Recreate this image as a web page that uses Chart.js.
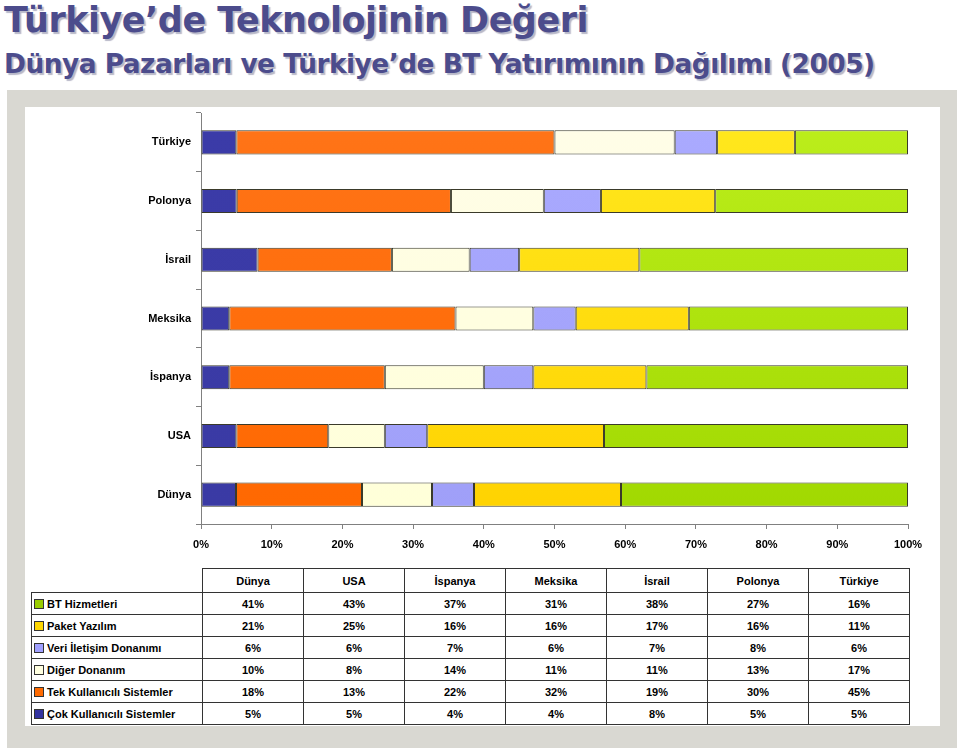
<!DOCTYPE html>
<html>
<head>
<meta charset="utf-8">
<script src="https://cdn.jsdelivr.net/npm/chart.js@4/dist/chart.umd.min.js"></script>
<style>
  body { margin: 0; background: #fff; width: 960px; height: 751px; overflow: hidden; position: relative; font-family: "Liberation Sans", Arial, sans-serif; }
  .t1, .t2 { position: absolute; left: 4px; font-family: "DejaVu Sans", Verdana, sans-serif; font-weight: bold; color: #4c4c8c; text-shadow: 2px 2px 1px #b8b8c8; white-space: nowrap; letter-spacing: -0.5px; }
  .t1 { top: 0px; font-size: 35px; }
  .t2 { top: 48px; font-size: 26.4px; }
  #frame { position: absolute; left: 7px; top: 90px; width: 950px; height: 658px; background: #d9d8d2; }
  #panel { position: absolute; left: 25px; top: 107px; width: 915px; height: 619px; background: #fff; }
  #wrap { position: absolute; left: 25px; top: 108px; width: 915px; height: 452px; }
  table { position: absolute; left: 31px; top: 568px; border-collapse: collapse; font-size: 11px; font-weight: bold; color: #000; }
  td { border: 1px solid #333; height: 21px; padding: 0; text-align: center; width: 100px; }
  tr.hd td { height: 23px; }
  td.lbl { width: 168px; text-align: left; padding-left: 2px; white-space: nowrap; }
  td.blank { border: none; }
  .sw { display: inline-block; width: 8px; height: 8px; border: 1px solid #333; margin-right: 3px; vertical-align: -1px; }
</style>
</head>
<body>
<div class="t1">Türkiye’de Teknolojinin Değeri</div>
<div class="t2">Dünya Pazarları ve Türkiye’de BT Yatırımının Dağılımı (2005)</div>
<div id="frame"></div>
<div id="panel"></div>
<div id="wrap"><canvas id="c"></canvas></div>
<table id="tbl"></table>
<script>
var countries = ['Dünya', 'USA', 'İspanya', 'Meksika', 'İsrail', 'Polonya', 'Türkiye'];
var seriesNames = ['Çok Kullanıcılı Sistemler', 'Tek Kullanıcılı Sistemler', 'Diğer Donanım', 'Veri İletişim Donanımı', 'Paket Yazılım', 'BT Hizmetleri'];
var cokKullanici = [5, 5, 4, 4, 8, 5, 5];
var tekKullanici = [18, 13, 22, 32, 19, 30, 45];
var digerDonanim = [10, 8, 14, 11, 11, 13, 17];
var veriIletisim = [6, 6, 7, 6, 7, 8, 6];
var paketYazilim = [21, 25, 16, 16, 17, 16, 11];
var btHizmetleri = [41, 43, 37, 31, 38, 27, 16];
var xTicks = [0, 10, 20, 30, 40, 50, 60, 70, 80, 90, 100];

var seriesValues = [cokKullanici, tekKullanici, digerDonanim, veriIletisim, paketYazilim, btHizmetleri];
// top colour (Türkiye row) and bottom colour (Dünya row)
var colorTop = ['#3b3ba8', '#ff7418', '#fffde8', '#aaaaff', '#ffe81e', '#bcee1c'];
var colorBot = ['#3a3aa4', '#ff6800', '#ffffd8', '#9f9ff8', '#ffd200', '#a0d800'];
var swatch = ['#3333a0', '#ff6a00', '#ffffe0', '#a0a0ff', '#ffd700', '#99cc00'];

// 100% stacked: each bar is shown as share of its own total (rounded table values)
var totals = countries.map(function(c, j) {
  return seriesValues.reduce(function(s, arr) { return s + arr[j]; }, 0);
});

function grad(i) {
  return function(ctx) {
    var area = ctx.chart.chartArea;
    if (!area) return colorBot[i];
    var g = ctx.chart.ctx.createLinearGradient(0, area.top, 0, area.bottom);
    g.addColorStop(0, colorTop[i]);
    g.addColorStop(1, colorBot[i]);
    return g;
  };
}

var datasets = seriesNames.map(function(name, i) {
  return {
    label: name,
    data: seriesValues[i].map(function(v, j) { return v / totals[j] * 100; }),
    backgroundColor: grad(i),
    borderColor: '#3a3a2a',
    borderWidth: 1,
    borderSkipped: false,
    categoryPercentage: 1,
    barPercentage: 0.41
  };
});

new Chart(document.getElementById('c'), {
  type: 'bar',
  data: { labels: countries, datasets: datasets },
  options: {
    indexAxis: 'y',
    responsive: true,
    maintainAspectRatio: false,
    animation: false,
    layout: { padding: { top: 5, right: 32, left: 0, bottom: 0 } },
    plugins: { legend: { display: false }, tooltip: { enabled: false } },
    scales: {
      x: {
        stacked: true,
        min: 0, max: 100,
        afterBuildTicks: function(s) { s.ticks = xTicks.map(function(v) { return { value: v }; }); },
        afterFit: function(s) { s.height = 36; s.paddingLeft = 0; s.paddingRight = 0; },
        border: { color: '#808080', width: 1 },
        grid: { drawOnChartArea: false, tickLength: 5, color: '#808080' },
        ticks: { padding: 9, color: '#000', font: { family: 'Liberation Sans', size: 11, weight: 'bold' },
          callback: function(v) { return v + '%'; } }
      },
      y: {
        stacked: true,
        reverse: true,
        afterFit: function(s) { s.width = 176; s.paddingTop = 0; s.paddingBottom = 0; },
        border: { color: '#808080', width: 1 },
        grid: { drawOnChartArea: false, tickLength: 5, color: '#808080', offset: true },
        ticks: { padding: 5, color: '#000', font: { family: 'Liberation Sans', size: 11, weight: 'bold' } }
      }
    }
  }
});

// data table under the chart
var tbl = document.getElementById('tbl');
var head = '<tr class="hd"><td class="blank lbl"></td>' + countries.map(function(c) { return '<td>' + c + '</td>'; }).join('') + '</tr>';
var rows = '';
for (var i = seriesNames.length - 1; i >= 0; i--) {
  rows += '<tr><td class="lbl"><span class="sw" style="background:' + swatch[i] + '"></span>' + seriesNames[i] + '</td>' +
    seriesValues[i].map(function(v) { return '<td>' + v + '%</td>'; }).join('') + '</tr>';
}
tbl.innerHTML = head + rows;
</script>
</body>
</html>
